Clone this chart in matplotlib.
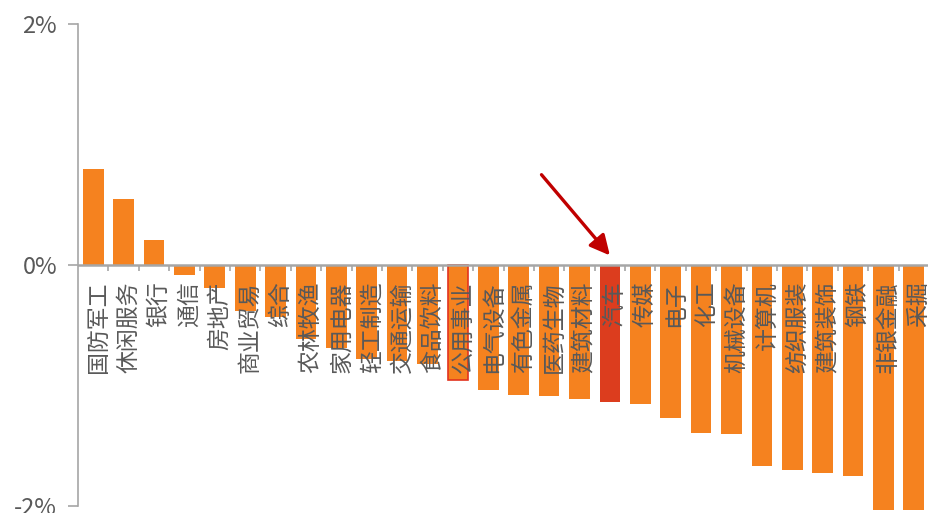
import numpy as np
import matplotlib.pyplot as plt
import matplotlib.transforms as mtransforms

plt.rcParams['font.family'] = ['Noto Sans CJK SC', 'DejaVu Sans']

# 行业涨跌幅（%）
industries = ['国防军工', '休闲服务', '银行', '通信', '房地产', '商业贸易', '综合',
              '农林牧渔', '家用电器', '轻工制造', '交通运输', '食品饮料', '公用事业',
              '电气设备', '有色金属', '医药生物', '建筑材料', '汽车', '传媒', '电子',
              '化工', '机械设备', '计算机', '纺织服装', '建筑装饰', '钢铁', '非银金融', '采掘']
changes = [0.80, 0.55, 0.21, -0.08, -0.19, -0.38, -0.43,
           -0.61, -0.69, -0.78, -0.80, -0.82, -0.95,
           -1.04, -1.08, -1.09, -1.11, -1.14, -1.15, -1.27,
           -1.39, -1.40, -1.67, -1.70, -1.73, -1.75, -2.03, -2.03]
highlight = '汽车'
outlined = '公用事业'

orange = '#F5821F'
red = '#DC3D1E'
grey = '#595959'

fig = plt.figure(figsize=(9.29, 5.13), dpi=100)
ax = fig.add_axes([0.084, 0.0, 0.916, 0.953])

x = np.arange(len(industries))
colors = [red if n == highlight else orange for n in industries]
bars = ax.bar(x, changes, width=0.68, color=colors, zorder=2)
for b, n in zip(bars, industries):
    if n == outlined:
        b.set_edgecolor('#E2331E')
        b.set_linewidth(1.2)

ax.set_xlim(-0.5, len(industries) - 0.5)
ax.set_ylim(-2.058, 2)
ax.set_yticks([-2, 0, 2])
ax.set_yticklabels(['-2%', '0%', '2%'], fontsize=17, color=grey)
ax.tick_params(axis='y', length=7, color='#A6A6A6', width=1.2, pad=8)

for s in ['top', 'right', 'bottom']:
    ax.spines[s].set_visible(False)
ax.spines['left'].set_color('#A6A6A6')
ax.spines['left'].set_linewidth(1.2)
ax.spines['left'].set_bounds(-2, 2)

# 零轴与分类刻度
ax.axhline(0, color='#A6A6A6', lw=1.8, zorder=3)
ax.set_xticks([])
ax.vlines(np.arange(len(industries)) + 0.5, 0, -0.05, color='#A6A6A6', lw=1.2, zorder=3)

# 分类标签画在零轴下方
offset = mtransforms.ScaledTranslation(5 / 100, -16 / 100, fig.dpi_scale_trans)
for xi, name in zip(x, industries):
    ax.text(xi, 0, name, rotation=90, ha='center', va='top', fontsize=16.5,
            color=grey, transform=ax.transData + offset, zorder=4)

# 指向汽车的箭头
idx = industries.index(highlight)
ax.annotate('', xy=(idx, 0.08), xytext=(idx - 2.25, 0.75),
            arrowprops=dict(arrowstyle='-|>', color='#C00000', lw=2.4,
                            mutation_scale=30, shrinkA=0, shrinkB=0), zorder=5)

fig.savefig('out.png', dpi=100)
